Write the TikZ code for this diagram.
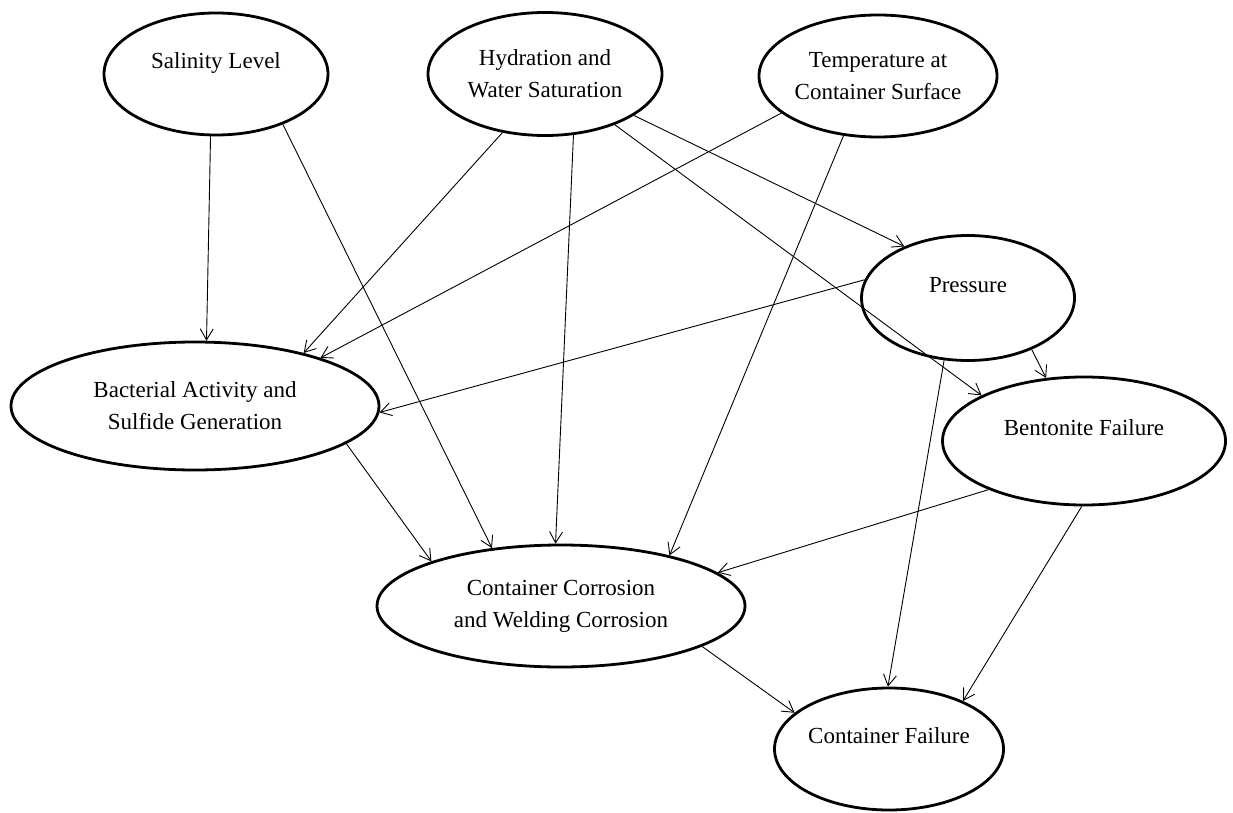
\documentclass[tikz,border=0pt]{standalone}
\usepackage{fontspec}
\setmainfont{Liberation Serif}
\usetikzlibrary{shapes.geometric, arrows.meta}

\begin{document}
\begin{tikzpicture}[x=1pt, y=-1pt,
    factor/.style={ellipse, draw, line width=2.8pt, align=center, inner sep=0pt, font=\fontsize{23}{32}\selectfont},
    toptext/.style={text depth=26pt},
    link/.style={-{Straight Barb[length=11pt, width=13pt]}, line width=0.9pt}]
    \useasboundingbox (0,0) rectangle (1233,813);
    % Top row
    \node [factor, toptext, minimum width=224, minimum height=122] (sal) at (216,74) {Salinity Level};
    \node [factor, minimum width=234, minimum height=123] (hyd) at (545,74) {Hydration and\\Water Saturation};
    \node [factor, minimum width=238, minimum height=122] (temp) at (878,76) {Temperature at\\Container Surface};
    % Middle
    \node [factor, toptext, minimum width=213, minimum height=125] (pres) at (968,298) {Pressure};
    \node [factor, minimum width=368, minimum height=128] (bact) at (195,406) {Bacterial Activity and\\Sulfide Generation};
    \node [factor, toptext, minimum width=283, minimum height=128] (bent) at (1084,441) {Bentonite Failure};
    % Bottom
    \node [factor, minimum width=368, minimum height=122] (corr) at (561,606) {Container Corrosion\\and Welding Corrosion};
    \node [factor, toptext, minimum width=229, minimum height=122] (fail) at (889,749) {Container Failure};
    % Influences
    \draw [link] (sal.-95) -- (bact.80);
    \draw [link] (sal.-37) -- (corr.140);
    \draw [link] (hyd.-126) -- (bact.26);
    \draw [link] (hyd.-65) -- (corr.95);
    \draw [link] (hyd.-36) -- (bent.156);
    \draw [link] (hyd.-25) -- (pres.141);
    \draw [link] (temp.-159) -- (bact.21);
    \draw [link] (temp.-120) -- (corr.25);
    \draw [link] (pres.170) -- (bact.-2);
    \draw [link] (pres.-111) -- (fail.91);
    \draw [link] (pres.-39) -- (bent.121);
    \draw [link] (bact.-14) -- (corr.161);
    \draw [link] (bent.-153) -- (corr.12);
    \draw [link] (bent.-92) -- (fail.33);
    \draw [link] (corr.-16) -- (fail.159);
\end{tikzpicture}
\end{document}
